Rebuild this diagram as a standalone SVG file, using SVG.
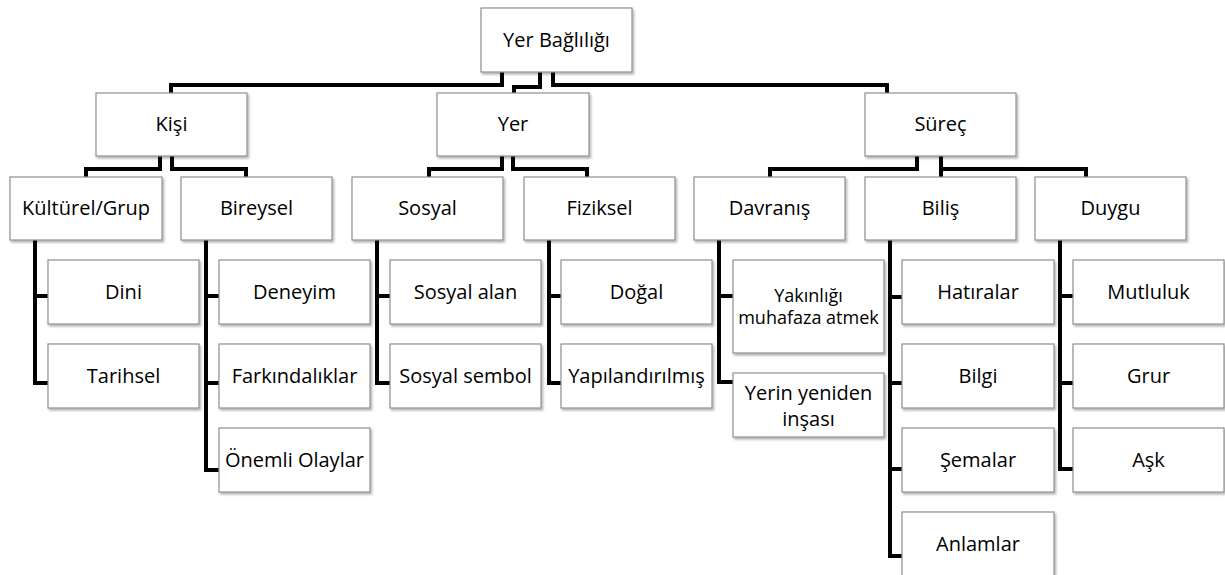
<svg xmlns="http://www.w3.org/2000/svg" width="1225" height="575" viewBox="0 0 1225 575">
<defs>
<filter id="sh" x="-10%" y="-10%" width="125%" height="130%">
<feDropShadow dx="1.5" dy="2" stdDeviation="1.2" flood-color="#000" flood-opacity="0.3"/>
</filter>
<style>
.b{fill:#fff;stroke:#8f8f8f;stroke-width:1.2;filter:url(#sh)}
.t{font-family:"Open Sans","Noto Sans",sans-serif;font-size:20px;fill:#000;text-anchor:middle}
.s{font-size:18px}
.c{fill:none;stroke:#000;stroke-width:4;stroke-linejoin:miter}
</style>
</defs>
<rect width="1225" height="575" fill="#fff"/>
<g id="connectors">
<path class="c" d="M502,72 V85 H171 V93"/>
<path class="c" d="M540,72 V87 H514 V93"/>
<path class="c" d="M553,72 V85 H887 V93"/>
<path class="c" d="M160,156 V169 H86 V177"/>
<path class="c" d="M172,156 V169 H246 V177"/>
<path class="c" d="M502,156 V169 H429 V177"/>
<path class="c" d="M513,156 V169 H587 V177"/>
<path class="c" d="M917,156 V169 H770 V177"/>
<path class="c" d="M941,156 V177"/>
<path class="c" d="M941,169 H1086 V177"/>
<path class="c" d="M35,240 V383 H48 M35,296 H48"/>
<path class="c" d="M206,240 V470 H219 M206,296 H219 M206,383 H219"/>
<path class="c" d="M377,240 V383 H390 M377,296 H390"/>
<path class="c" d="M549,240 V383 H561 M549,296 H561"/>
<path class="c" d="M719,240 V382 H733 M719,296 H733"/>
<path class="c" d="M890,240 V556 H902 M890,297 H902 M890,383 H902 M890,469 H902"/>
<path class="c" d="M1060,240 V469 H1073 M1060,296 H1073 M1060,383 H1073"/>
</g>
<g id="root"><rect class="b" x="481" y="8" width="151" height="64"/><text class="t" x="556.5" y="47">Yer Bağlılığı</text></g>
<g id="kisi"><rect class="b" x="96" y="93" width="151" height="63"/><text class="t" x="171.5" y="131">Kişi</text></g>
<g id="yer"><rect class="b" x="437" y="93" width="152" height="63"/><text class="t" x="513" y="131">Yer</text></g>
<g id="surec"><rect class="b" x="865" y="93" width="151" height="63"/><text class="t" x="940.5" y="131">Süreç</text></g>

<g id="kulturel"><rect class="b" x="10" y="177" width="152" height="63"/><text class="t" x="86" y="215">Kültürel/Grup</text></g>
<g id="bireysel"><rect class="b" x="181" y="177" width="151" height="63"/><text class="t" x="256.5" y="215">Bireysel</text></g>
<g id="sosyal"><rect class="b" x="352" y="177" width="151" height="63"/><text class="t" x="427.5" y="215">Sosyal</text></g>
<g id="fiziksel"><rect class="b" x="524" y="177" width="151" height="63"/><text class="t" x="599.5" y="215">Fiziksel</text></g>
<g id="davranis"><rect class="b" x="694" y="177" width="151" height="63"/><text class="t" x="769.5" y="215">Davranış</text></g>
<g id="bilis"><rect class="b" x="865" y="177" width="151" height="63"/><text class="t" x="940.5" y="215">Biliş</text></g>
<g id="duygu"><rect class="b" x="1035" y="177" width="151" height="63"/><text class="t" x="1110.5" y="215">Duygu</text></g>

<g id="dini"><rect class="b" x="48" y="260" width="151" height="64"/><text class="t" x="123.5" y="299">Dini</text></g>
<g id="tarihsel"><rect class="b" x="48" y="344" width="151" height="64"/><text class="t" x="123.5" y="383">Tarihsel</text></g>
<g id="deneyim"><rect class="b" x="219" y="260" width="151" height="64"/><text class="t" x="294.5" y="299">Deneyim</text></g>
<g id="farkindaliklar"><rect class="b" x="219" y="344" width="151" height="64"/><text class="t" x="294.5" y="383">Farkındalıklar</text></g>
<g id="onemli"><rect class="b" x="219" y="428" width="151" height="64"/><text class="t" x="294.5" y="467">Önemli Olaylar</text></g>
<g id="sosyalalan"><rect class="b" x="390" y="260" width="151" height="64"/><text class="t" x="465.5" y="299">Sosyal alan</text></g>
<g id="sosyalsembol"><rect class="b" x="390" y="344" width="151" height="64"/><text class="t" x="465.5" y="383">Sosyal sembol</text></g>
<g id="dogal"><rect class="b" x="561" y="260" width="151" height="64"/><text class="t" x="636.5" y="299">Doğal</text></g>
<g id="yapilandirilmis"><rect class="b" x="561" y="344" width="151" height="64"/><text class="t" x="636.5" y="383">Yapılandırılmış</text></g>
<g id="yakinligi"><rect class="b" x="733" y="260" width="151" height="93"/><text class="t s" x="808.5" y="302">Yakınlığı</text><text class="t s" x="808.5" y="324">muhafaza atmek</text></g>
<g id="yerin"><rect class="b" x="733" y="373" width="151" height="64"/><text class="t" x="808.5" y="400">Yerin yeniden</text><text class="t" x="808.5" y="426">inşası</text></g>
<g id="hatiralar"><rect class="b" x="902" y="260" width="152" height="64"/><text class="t" x="978" y="299">Hatıralar</text></g>
<g id="bilgi"><rect class="b" x="902" y="344" width="152" height="64"/><text class="t" x="978" y="383">Bilgi</text></g>
<g id="semalar"><rect class="b" x="902" y="428" width="152" height="64"/><text class="t" x="978" y="467">Şemalar</text></g>
<g id="anlamlar"><rect class="b" x="902" y="512" width="152" height="64"/><text class="t" x="978" y="551">Anlamlar</text></g>
<g id="mutluluk"><rect class="b" x="1073" y="260" width="151" height="64"/><text class="t" x="1148.5" y="299">Mutluluk</text></g>
<g id="grur"><rect class="b" x="1073" y="344" width="151" height="64"/><text class="t" x="1148.5" y="383">Grur</text></g>
<g id="ask"><rect class="b" x="1073" y="428" width="151" height="64"/><text class="t" x="1148.5" y="467">Aşk</text></g>
</svg>
